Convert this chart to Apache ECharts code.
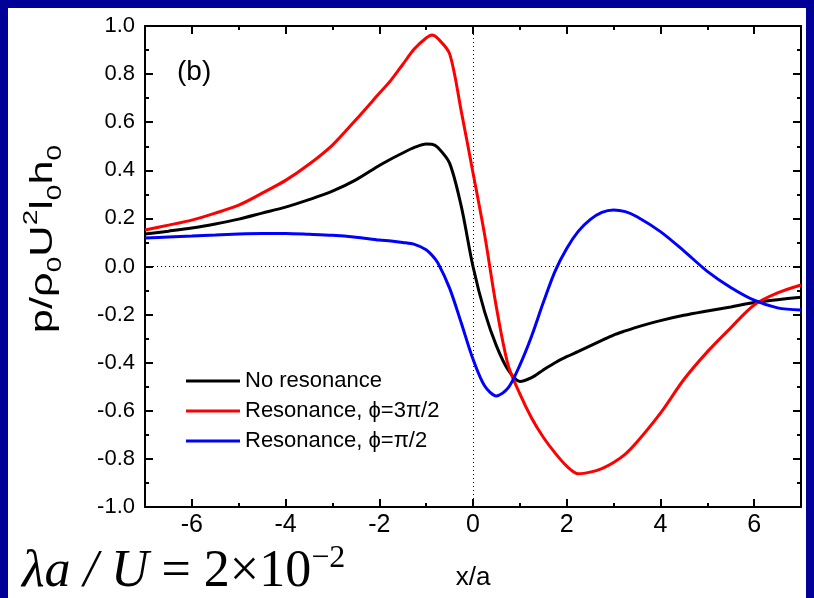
<!DOCTYPE html>
<html>
<head>
<meta charset="utf-8">
<script src="https://cdn.jsdelivr.net/npm/echarts@6/dist/echarts.min.js"></script>
<style>
  html, body { margin: 0; padding: 0; background: #000099; width: 814px; height: 598px; overflow: hidden; }
  #paper { position: absolute; left: 8px; top: 8px; width: 798px; height: 590px; background: #ffffff; }
  #chart { position: absolute; left: 0; top: 0; width: 814px; height: 598px; }
</style>
</head>
<body>
<div id="paper"></div>
<div id="chart"></div>
<script>
// ---- data ----
const seriesNames = ['No resonance', 'Resonance, \u03D5=3\u03C0/2', 'Resonance, \u03D5=\u03C0/2'];

const xValues = [-7, -6.5, -6, -5.5, -5, -4.5, -4, -3.5, -3, -2.5,
  -2, -1.75, -1.5, -1.25, -1, -0.875, -0.75, -0.5, -0.25, 0,
  0.25, 0.5, 0.75, 1, 1.25, 1.5, 1.75, 2, 2.25, 2.5,
  2.75, 3, 3.25, 3.5, 4, 4.5, 5, 5.5, 6, 6.5, 7];

const yNoResonance = [0.135, 0.147, 0.16, 0.177, 0.197, 0.222, 0.247, 0.278, 0.313, 0.36,
  0.42, 0.447, 0.472, 0.495, 0.509, 0.508, 0.495, 0.43, 0.25, 0.0,
  -0.19, -0.33, -0.43, -0.478, -0.462, -0.43, -0.40, -0.375, -0.353, -0.33,
  -0.307, -0.285, -0.268, -0.252, -0.225, -0.203, -0.185, -0.168, -0.15, -0.138, -0.128];

const yRes3pi2 = [0.152, 0.172, 0.193, 0.222, 0.255, 0.305, 0.358, 0.425, 0.505, 0.61,
  0.72, 0.775, 0.84, 0.905, 0.95, 0.963, 0.948, 0.885, 0.645, 0.39,
  0.13, -0.17, -0.41, -0.53, -0.63, -0.71, -0.775, -0.83, -0.862, -0.855,
  -0.84, -0.815, -0.78, -0.73, -0.61, -0.47, -0.355, -0.255, -0.16, -0.11, -0.077];

const yResPi2 = [0.118, 0.123, 0.127, 0.131, 0.135, 0.137, 0.137, 0.134, 0.13, 0.122,
  0.11, 0.106, 0.10, 0.092, 0.07, 0.047, 0.015, -0.09, -0.235, -0.385,
  -0.497, -0.538, -0.505, -0.41, -0.29, -0.15, -0.02, 0.075, 0.147, 0.195,
  0.225, 0.235, 0.228, 0.207, 0.145, 0.065, -0.02, -0.087, -0.14, -0.172, -0.181];

const xMajorTicks = [-6, -4, -2, 0, 2, 4, 6];
const yTickLabels = ['-1.0', '-0.8', '-0.6', '-0.4', '-0.2', '0.0', '0.2', '0.4', '0.6', '0.8', '1.0'];

function zip(xs, ys) { return xs.map((x, i) => [x, ys[i]]); }

const chart = echarts.init(document.getElementById('chart'), null, { renderer: 'canvas' });

const black = '#000000';
const sans = 'Liberation Sans, Arial, sans-serif';
const serif = 'Liberation Serif, Times New Roman, serif';

function xAxisBase(pos) {
  return {
    type: 'value', min: -7, max: 7, position: pos, gridIndex: 0,
    splitLine: { show: false },
    axisPointer: { show: false }
  };
}
const axisLineStyle = { show: true, onZero: false, lineStyle: { color: black, width: 2 } };
const hiddenLine = { show: false, onZero: false };

const option = {
  animation: false,
  backgroundColor: 'transparent',
  grid: { left: 145, top: 26, right: 13, bottom: 91, containLabel: false },
  textStyle: { fontFamily: sans },
  legend: {
    orient: 'vertical',
    left: 186, top: 369, padding: 0,
    icon: 'rect',
    itemWidth: 54, itemHeight: 3,
    itemGap: 6,
    textStyle: { fontSize: 22, color: black, lineHeight: 24, fontFamily: sans },
    data: seriesNames
  },
  xAxis: [
    Object.assign(xAxisBase('bottom'), {
      interval: 1,
      axisLine: axisLineStyle,
      axisTick: { show: true, inside: true, length: 4, lineStyle: { color: black, width: 2 } },
      axisLabel: {
        show: true, customValues: xMajorTicks, color: black, fontSize: 25, margin: 6,
        fontFamily: sans
      },
      name: 'x/a', nameLocation: 'middle', nameGap: 58,
      nameTextStyle: { fontSize: 26, color: black, fontFamily: sans }
    }),
    Object.assign(xAxisBase('bottom'), {
      axisLine: hiddenLine,
      axisTick: { show: true, inside: true, length: 8, customValues: xMajorTicks, lineStyle: { color: black, width: 2 } },
      axisLabel: { show: false }
    }),
    Object.assign(xAxisBase('top'), {
      interval: 1,
      axisLine: axisLineStyle,
      axisTick: { show: true, inside: true, length: 4, lineStyle: { color: black, width: 2 } },
      axisLabel: { show: false }
    }),
    Object.assign(xAxisBase('top'), {
      axisLine: hiddenLine,
      axisTick: { show: true, inside: true, length: 8, customValues: xMajorTicks, lineStyle: { color: black, width: 2 } },
      axisLabel: { show: false }
    })
  ],
  yAxis: [
    {
      type: 'value', min: -1, max: 1, interval: 0.2, position: 'left',
      axisLine: axisLineStyle,
      axisTick: { show: true, inside: true, length: 8, lineStyle: { color: black, width: 2 } },
      minorTick: { show: true, splitNumber: 2, length: 4, lineStyle: { color: black, width: 2 } },
      axisLabel: {
        color: black, fontSize: 22, margin: 10,
        formatter: function (v) { const i = Math.round((v + 1) / 0.2); return yTickLabels[i]; }
      },
      splitLine: { show: false }, minorSplitLine: { show: false }
    },
    {
      type: 'value', min: -1, max: 1, interval: 0.2, position: 'right',
      axisLine: axisLineStyle,
      axisTick: { show: true, inside: true, length: 8, lineStyle: { color: black, width: 2 } },
      minorTick: { show: true, splitNumber: 2, length: 4, lineStyle: { color: black, width: 2 } },
      axisLabel: { show: false },
      splitLine: { show: false }, minorSplitLine: { show: false }
    }
  ],
  graphic: [
    {
      type: 'text', left: 177, top: 58,
      style: { text: '(b)', fontSize: 28, fill: black, fontFamily: sans }
    },
    {
      type: 'text', x: 43, y: 239, rotation: Math.PI / 2, scaleX: 1.4,
      style: {
        text: '{n|p/\u03C1}{s|0}{n|U}{p|2}{n|l}{s|0}{n|h}{s|0}',
        align: 'center', verticalAlign: 'middle',
        rich: {
          n: { fontSize: 31, lineHeight: 44, fill: black, fontFamily: sans },
          s: { fontSize: 20, lineHeight: 20, verticalAlign: 'bottom', fill: black, fontFamily: sans },
          p: { fontSize: 20, lineHeight: 20, verticalAlign: 'top', fill: black, fontFamily: sans }
        }
      }
    },
    {
      type: 'text', x: 22, y: 572,
      style: {
        text: '{i|\u03BBa / U}{r| = 2\u00D710}{p|\u22122}',
        verticalAlign: 'middle',
        rich: {
          i: { fontSize: 52, lineHeight: 58, fontStyle: 'italic', fontFamily: serif, fill: black },
          r: { fontSize: 52, lineHeight: 58, fontFamily: serif, fill: black },
          p: { fontSize: 32, lineHeight: 32, verticalAlign: 'top', fontFamily: serif, fill: black }
        }
      }
    }
  ],
  series: [
    {
      name: seriesNames[0], type: 'line', xAxisIndex: 0, yAxisIndex: 0,
      data: zip(xValues, yNoResonance), smooth: 0.3, showSymbol: false,
      lineStyle: { color: '#000000', width: 3 }, itemStyle: { color: '#000000' },
      markLine: {
        silent: true, symbol: ['none', 'none'], label: { show: false },
        lineStyle: { type: [1, 3], color: black, width: 1 },
        data: [{ xAxis: 0 }, { yAxis: 0 }],
        z: 1
      }
    },
    {
      name: seriesNames[1], type: 'line', xAxisIndex: 0, yAxisIndex: 0,
      data: zip(xValues, yRes3pi2), smooth: 0.3, showSymbol: false,
      lineStyle: { color: '#ff0000', width: 3 }, itemStyle: { color: '#ff0000' }
    },
    {
      name: seriesNames[2], type: 'line', xAxisIndex: 0, yAxisIndex: 0,
      data: zip(xValues, yResPi2), smooth: 0.3, showSymbol: false,
      lineStyle: { color: '#0000ff', width: 3 }, itemStyle: { color: '#0000ff' }
    }
  ]
};
chart.setOption(option);
</script>
</body>
</html>
